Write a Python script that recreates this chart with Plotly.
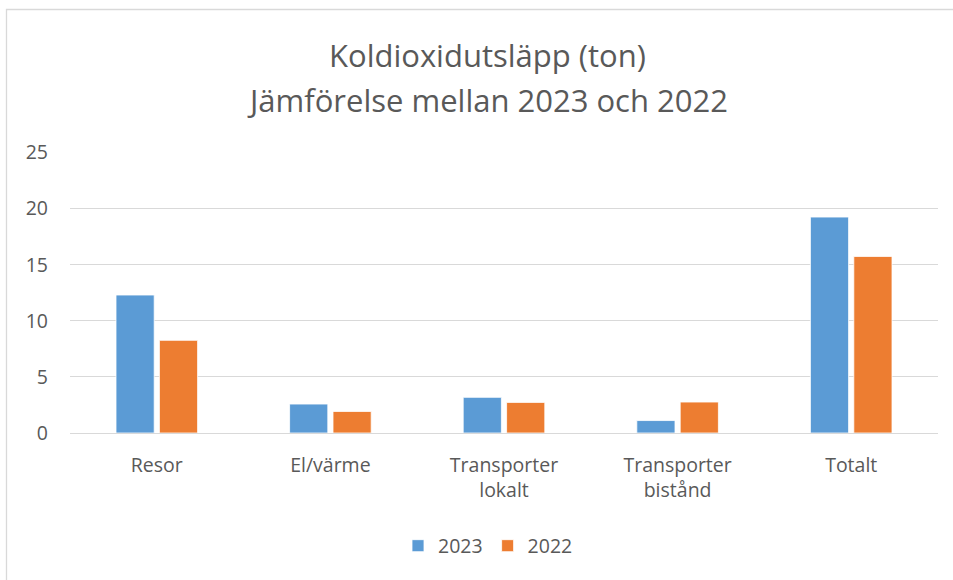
import plotly.graph_objects as go

categories = ["Resor", "El/värme", "Transporter<br>lokalt", "Transporter<br>bistånd", "Totalt"]
values_2023 = [12.3, 2.58, 3.18, 1.11, 19.25]
values_2022 = [8.26, 1.92, 2.73, 2.76, 15.74]
y_ticks = [0, 5, 10, 15, 20, 25]
title_lines = ["Koldioxidutsläpp (ton)", "Jämförelse mellan 2023 och 2022"]

W, H = 953, 580
L, R, T, B = 70, W - 938, 152, H - 433

FONT = "'Open Sans', Lato, sans-serif"
GREY = "#595959"
TICK = 19.5

fig = go.Figure()
fig.add_trace(go.Bar(name="2023", x=categories, y=values_2023,
                     marker=dict(color="#5b9bd5", line=dict(color="#ffffff", width=0.8))))
fig.add_trace(go.Bar(name="2022", x=categories, y=values_2022,
                     marker=dict(color="#ed7d31", line=dict(color="#ffffff", width=0.8))))

pw = W - L - R
ph = H - T - B
def px_x(p):
    return (p - L) / pw
def px_y(p):
    return (H - B - p) / ph

fig.add_shape(type="rect", xref="paper", yref="paper",
              x0=px_x(6.5), x1=px_x(970), y0=px_y(9.5), y1=px_y(600),
              line=dict(color="#d9d9d9", width=1.3), fillcolor="rgba(0,0,0,0)", layer="below")

for line, yc in zip(title_lines, [55, 100]):
    fig.add_annotation(text=line, xref="paper", yref="paper",
                       x=px_x(487), y=px_y(yc), xanchor="center", yanchor="middle",
                       showarrow=False, font=dict(family=FONT, size=31, color=GREY))

fig.update_layout(
    width=W, height=H,
    margin=dict(l=L, r=R, t=T, b=B),
    paper_bgcolor="white", plot_bgcolor="white",
    barmode="group", bargap=0.5, bargroupgap=0.12,
    font=dict(family=FONT, color=GREY, size=TICK),
    legend=dict(orientation="h", xref="container", yref="container",
                x=488 / W, xanchor="center", y=1 - 546 / H, yanchor="middle",
                font=dict(size=TICK, color=GREY), traceorder="normal"),
    showlegend=True,
)
fig.update_yaxes(range=[0, 25.05], tickvals=y_ticks, showgrid=True, gridcolor="#d9d9d9",
                 gridwidth=1, zeroline=True, zerolinecolor="#d9d9d9", zerolinewidth=1,
                 showline=False, ticks="", ticklabelstandoff=21,
                 tickfont=dict(size=TICK, color=GREY), fixedrange=True)
fig.update_xaxes(showgrid=False, showline=False, ticks="", ticklabelstandoff=18,
                 tickfont=dict(size=TICK, color=GREY), fixedrange=True)

fig.write_html("out.html", config={"displayModeBar": False},
               post_script="document.body.style.margin='0px';document.body.style.overflow='hidden';")
